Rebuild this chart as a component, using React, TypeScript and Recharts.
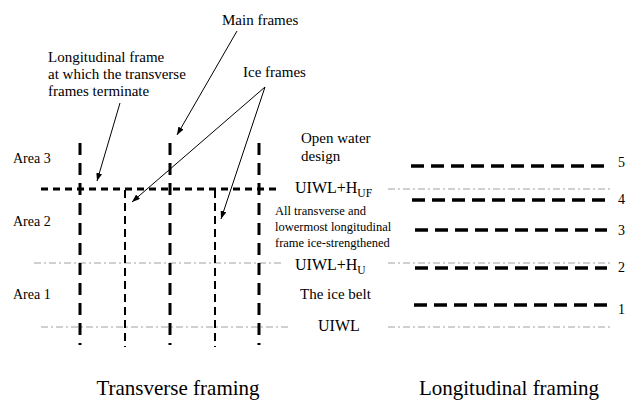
import { ComposedChart, XAxis, YAxis, ReferenceLine, Scatter } from "recharts";

const FONT = "Times New Roman";

// transverse framing: frame positions along the ship and their vertical extent
const mainFrames = [80, 170, 259];
const iceFrames = [125, 215];
const mainFrameTop = 143;
const mainFrameBottom = 345;
const iceFrameTop = 190;
const iceFrameBottom = 347;
const terminatingFrame = { y: 189, from: 41, to: 279 };

// waterlines (thin dash-dot)
const waterlineLeft = [
  { y: 263, from: 34, to: 283 },
  { y: 327, from: 41, to: 291 },
];
const waterlineRight = [
  { y: 189, from: 388, to: 613 },
  { y: 263, from: 388, to: 613 },
  { y: 327, from: 388, to: 613 },
];

// longitudinal framing: frames 1..5
const longFrameNo = ["1", "2", "3", "4", "5"];
const longFrameY = [305, 268, 230, 200, 166];
const longFrameStart = [414, 415, 415, 412, 411];
const longFrameEnd = 607;
const longFrameLabelY = [309, 267, 230, 199, 162];

// leader arrows
const arrows = [
  { x1: 120, y1: 103, x2: 97, y2: 181 },
  { x1: 237, y1: 31, x2: 177, y2: 135 },
  { x1: 265, y1: 87, x2: 132, y2: 202 },
  { x1: 265, y1: 87, x2: 221, y2: 219 },
];

const calloutText = [
  { text: "Main frames", x: 222, y: 25 },
  { text: "Ice frames", x: 243, y: 77 },
  { text: "Longitudinal frame", x: 48, y: 62 },
  { text: "at which the transverse", x: 48, y: 79 },
  { text: "frames terminate", x: 48, y: 96 },
  { text: "Open water", x: 301, y: 143 },
  { text: "design", x: 301, y: 161 },
  { text: "The ice belt", x: 300, y: 299 },
];
const areaText = [
  { text: "Area 3", x: 13, y: 163 },
  { text: "Area 2", x: 13, y: 226 },
  { text: "Area 1", x: 13, y: 299 },
];
const waterlineText = [
  { text: "UIWL+H", sub: "UF", x: 295, y: 193 },
  { text: "UIWL+H", sub: "U", x: 295, y: 270 },
  { text: "UIWL", sub: "", x: 318, y: 331 },
];
const noteText = [
  { text: "All transverse and", x: 275, y: 215 },
  { text: "lowermost longitudinal", x: 275, y: 231 },
  { text: "frame ice-strengthened", x: 275, y: 247 },
];
const titleText = [
  { text: "Transverse framing", x: 178, y: 395 },
  { text: "Longitudinal framing", x: 509, y: 395 },
];
const longFrameText = longFrameNo.map((n, i) => ({ text: n, x: 618, y: longFrameLabelY[i] + 5 }));

const textShape = (size: number, anchor = "start") => (p: any) => (
  <text x={p.cx} y={p.cy} textAnchor={anchor} fontFamily={FONT} fontSize={size}>
    {p.payload.text}
    {p.payload.sub ? (
      <tspan fontSize={size * 0.72} dy={4}>
        {p.payload.sub}
      </tspan>
    ) : null}
  </text>
);

const THIN = { stroke: "#888", strokeWidth: 0.8, strokeDasharray: "7 3 2 3" };

export default function App() {
  return (
    <div style={{ position: "absolute", left: 0, top: 0, background: "#fff" }}>
      <ComposedChart width={628} height={400} margin={{ top: 0, right: 0, bottom: 0, left: 0 }}>
        <defs>
          <marker
            id="arrowHead"
            markerWidth={8}
            markerHeight={6}
            refX={8}
            refY={3}
            orient="auto"
            markerUnits="userSpaceOnUse"
          >
            <path d="M0,0 L8,3 L0,6 z" fill="#000" />
          </marker>
        </defs>
        <XAxis type="number" dataKey="x" domain={[0, 628]} hide />
        <YAxis type="number" dataKey="y" domain={[0, 400]} reversed hide />

        {waterlineLeft.concat(waterlineRight).map((w, i) => (
          <ReferenceLine
            key={"w" + i}
            segment={[{ x: w.from, y: w.y }, { x: w.to, y: w.y }]}
            {...THIN}
          />
        ))}

        <ReferenceLine
          segment={[
            { x: terminatingFrame.from, y: terminatingFrame.y },
            { x: terminatingFrame.to, y: terminatingFrame.y },
          ]}
          stroke="#000"
          strokeWidth={3}
          strokeDasharray="7 5"
        />
        {mainFrames.map((x) => (
          <ReferenceLine
            key={"m" + x}
            segment={[{ x, y: mainFrameTop }, { x, y: mainFrameBottom }]}
            stroke="#000"
            strokeWidth={3}
            strokeDasharray="12 8"
          />
        ))}
        {iceFrames.map((x) => (
          <ReferenceLine
            key={"i" + x}
            segment={[{ x, y: iceFrameTop }, { x, y: iceFrameBottom }]}
            stroke="#000"
            strokeWidth={2}
            strokeDasharray="8 5"
          />
        ))}

        {longFrameY.map((y, i) => (
          <ReferenceLine
            key={"l" + i}
            segment={[{ x: longFrameStart[i], y }, { x: longFrameEnd, y }]}
            stroke="#000"
            strokeWidth={3.5}
            strokeDasharray="13 7"
          />
        ))}

        {arrows.map((a, i) => (
          <ReferenceLine
            key={"a" + i}
            segment={[{ x: a.x1, y: a.y1 }, { x: a.x2, y: a.y2 }]}
            stroke="#000"
            strokeWidth={1}
            markerEnd="url(#arrowHead)"
          />
        ))}

        <Scatter data={calloutText} shape={textShape(15)} isAnimationActive={false} />
        <Scatter data={areaText} shape={textShape(14)} isAnimationActive={false} />
        <Scatter data={waterlineText} shape={textShape(16)} isAnimationActive={false} />
        <Scatter data={noteText} shape={textShape(12.5)} isAnimationActive={false} />
        <Scatter data={longFrameText} shape={textShape(14)} isAnimationActive={false} />
        <Scatter data={titleText} shape={textShape(21, "middle")} isAnimationActive={false} />
      </ComposedChart>
    </div>
  );
}
